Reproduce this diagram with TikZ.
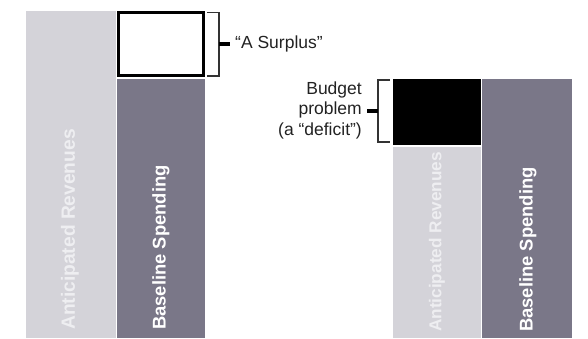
\documentclass[tikz,border=0pt]{standalone}
\usepackage{fontspec}
\setmainfont{Liberation Sans}
\definecolor{lightbar}{HTML}{D4D3D9}
\definecolor{darkbar}{HTML}{7A7788}
\definecolor{labeltext}{HTML}{222222}
\definecolor{paletext}{HTML}{EEEEF1}
\definecolor{brkcol}{HTML}{333333}
\begin{document}
\begin{tikzpicture}[x=1pt,y=-1pt,
  bartext/.style={rotate=90,anchor=west,inner sep=0pt,font=\bfseries\fontsize{18.4}{20}\selectfont},
  labelstyle/.style={inner sep=0pt,text=labeltext,font=\fontsize{17.5}{20.5}\selectfont},
  brk/.style={draw=brkcol,line width=1.2pt},
  tick/.style={draw=black,line width=4pt}]
\useasboundingbox (0,0) rectangle (588,339);
% left group
\fill[lightbar] (26,11) rectangle (116,338);
\fill[darkbar] (117,79) rectangle (205,338);
\draw[black,line width=2.6pt,fill=white] (118.3,12.3) rectangle (203.7,75.7);
\node[bartext,text=paletext,font=\bfseries\fontsize{19.2}{21}\selectfont] (antL) at (70,330) {Anticipated Revenues};
\node[bartext,text=white] (baseL) at (161,330) {Baseline Spending};
% surplus bracket
\coordinate (sTop) at (207,12.5);
\coordinate (sBot) at (207,76);
\coordinate (sMid) at (219,44);
\draw[brk] (sTop) -- (219,12.5) -- (219,76) -- (sBot);
\node[labelstyle,anchor=west] (surplus) at (235,44) {“A Surplus”};
\draw[tick] (sMid) -- (230,44);
% right group
\fill[lightbar] (393,147) rectangle (481,338);
\fill[black] (393,79) rectangle (481,145);
\fill[darkbar] (482,79) rectangle (572,338);
\node[bartext,text=paletext,font=\bfseries\fontsize{17.2}{19}\selectfont] (antR) at (437,332) {Anticipated Revenues};
\node[bartext,text=white] (baseR) at (528,332) {Baseline Spending};
% deficit bracket
\coordinate (dTop) at (390,80);
\coordinate (dBot) at (390,142);
\coordinate (dMid) at (378,111);
\draw[brk] (dTop) -- (378,80) -- (378,142) -- (dBot);
\node[labelstyle,anchor=east,align=right] (deficit) at (362,110) {Budget\\problem\\(a “deficit”)};
\draw[tick] (dMid) -- (367,111);
\end{tikzpicture}
\end{document}
